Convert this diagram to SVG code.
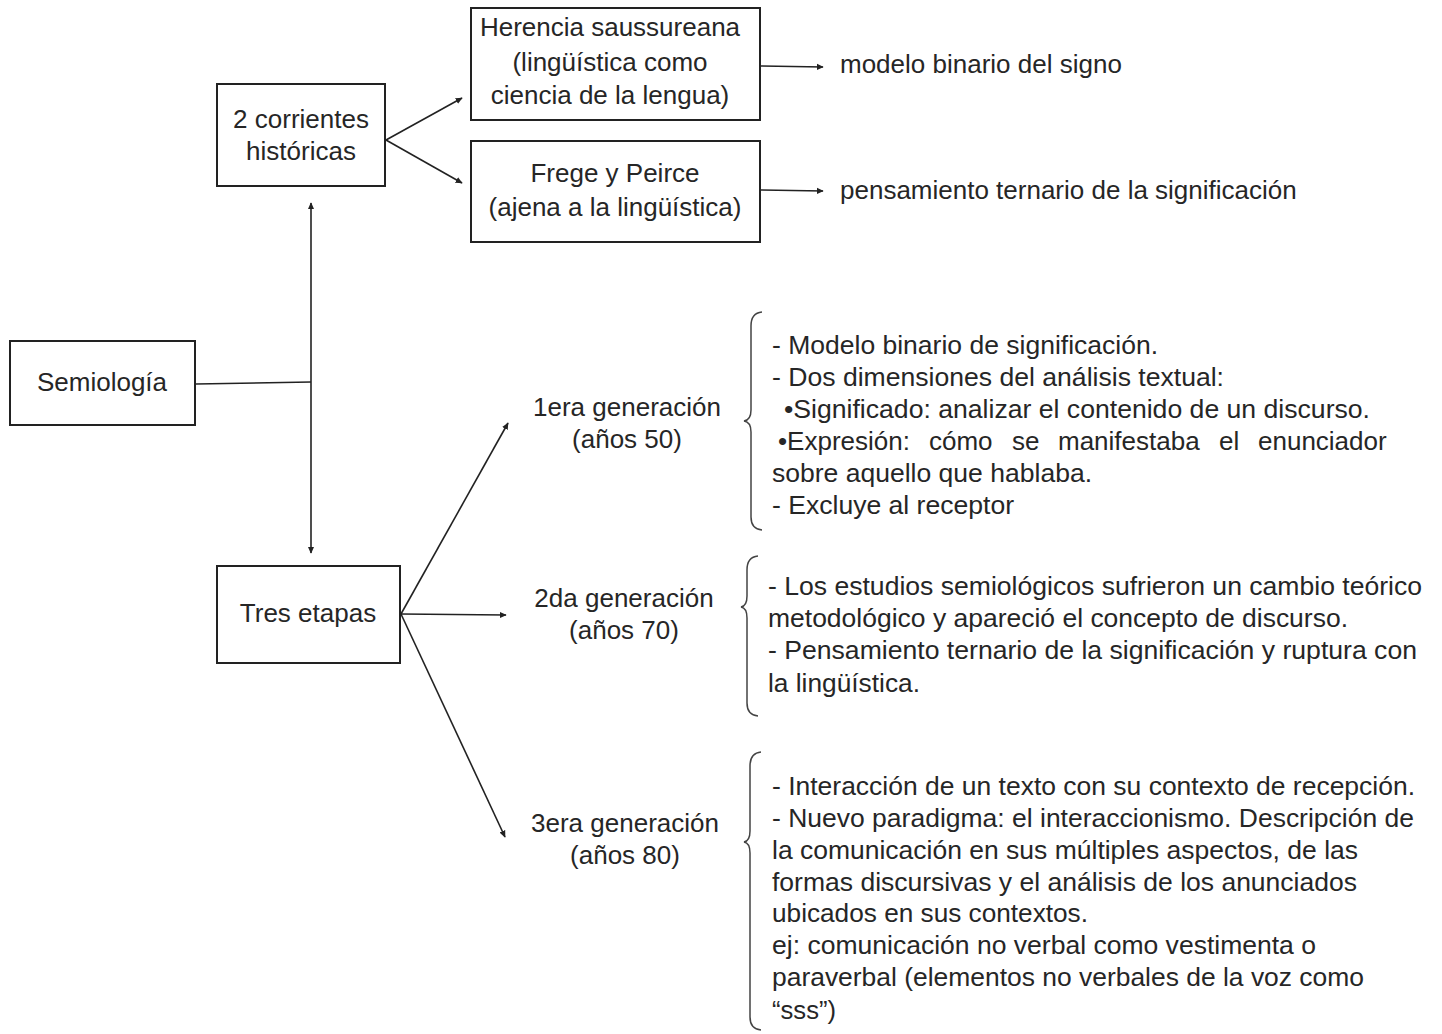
<svg xmlns="http://www.w3.org/2000/svg" width="1442" height="1034" viewBox="0 0 1442 1034">
<style>
  .box { fill: #fff; stroke: #222; stroke-width: 2; }
  .lbl { font-family: "Liberation Sans", Arial, sans-serif; font-size: 26px; fill: #262626; text-anchor: middle; }
  .txt { font-family: "Liberation Sans", Arial, sans-serif; font-size: 26px; fill: #262626; }
  .edge { stroke: #222; stroke-width: 1.6; fill: none; }
  .brace { stroke: #444; stroke-width: 1.5; fill: none; }
</style>
<defs>
  <marker id="ah" viewBox="0 0 10 10" refX="9" refY="5" markerWidth="7" markerHeight="7" markerUnits="userSpaceOnUse" orient="auto-start-reverse">
    <path d="M0,0.5 L10,5 L0,9.5 Z" fill="#222"/>
  </marker>
</defs>
<rect width="1442" height="1034" fill="#fff"/>

<g id="connectors">
  <line class="edge" x1="386" y1="140" x2="462" y2="98" marker-end="url(#ah)"/>
  <line class="edge" x1="386" y1="140" x2="462" y2="183" marker-end="url(#ah)"/>
  <line class="edge" x1="760" y1="66" x2="823" y2="67" marker-end="url(#ah)"/>
  <line class="edge" x1="760" y1="190" x2="823" y2="191" marker-end="url(#ah)"/>
  <line class="edge" x1="311" y1="203" x2="311" y2="553" marker-start="url(#ah)" marker-end="url(#ah)"/>
  <line class="edge" x1="196" y1="384" x2="311" y2="382"/>
  <line class="edge" x1="401" y1="614" x2="508" y2="423" marker-end="url(#ah)"/>
  <line class="edge" x1="401" y1="614" x2="506" y2="615" marker-end="url(#ah)"/>
  <line class="edge" x1="401" y1="614" x2="505" y2="837" marker-end="url(#ah)"/>
</g>

<g id="n-corrientes">
  <rect class="box" x="217" y="84" width="168" height="102"/>
  <text class="lbl" x="301" y="128">2 corrientes</text>
  <text class="lbl" x="301" y="160">históricas</text>
</g>
<g id="n-herencia">
  <rect class="box" x="471" y="8" width="289" height="112"/>
  <text class="lbl" x="610" y="36">Herencia saussureana</text>
  <text class="lbl" x="610" y="71">(lingüística como</text>
  <text class="lbl" x="610" y="104">ciencia de la lengua)</text>
</g>
<g id="n-frege">
  <rect class="box" x="471" y="141" width="289" height="101"/>
  <text class="lbl" x="615" y="182">Frege y Peirce</text>
  <text class="lbl" x="615" y="216">(ajena a la lingüística)</text>
</g>
<g id="n-modelo">
  <text class="txt" x="840" y="73">modelo binario del signo</text>
</g>
<g id="n-pensamiento">
  <text class="txt" x="840" y="199">pensamiento ternario de la significación</text>
</g>
<g id="n-semiologia">
  <rect class="box" x="10" y="341" width="185" height="84"/>
  <text class="lbl" x="102" y="391">Semiología</text>
</g>
<g id="n-tres">
  <rect class="box" x="217" y="566" width="183" height="97"/>
  <text class="lbl" x="308" y="622">Tres etapas</text>
</g>
<g id="n-gen1">
  <text class="lbl" x="627" y="416">1era generación</text>
  <text class="lbl" x="627" y="448">(años 50)</text>
</g>
<g id="n-gen2">
  <text class="lbl" x="624" y="607">2da generación</text>
  <text class="lbl" x="624" y="639">(años 70)</text>
</g>
<g id="n-gen3">
  <text class="lbl" x="625" y="832">3era generación</text>
  <text class="lbl" x="625" y="864">(años 80)</text>
</g>

<g id="n-desc1">
  <path class="brace" d="M762,312 Q751,313 751,326 L751,410 Q751,420 744,421 Q751,422 751,432 L751,517 Q751,529 762,530"/>
  <text class="txt" x="772" y="354" textLength="386" lengthAdjust="spacingAndGlyphs">- Modelo binario de significación.</text>
  <text class="txt" x="772" y="386" textLength="452" lengthAdjust="spacingAndGlyphs">- Dos dimensiones del análisis textual:</text>
  <text class="txt" x="784" y="418" textLength="586" lengthAdjust="spacingAndGlyphs">•Significado: analizar el contenido de un discurso.</text>
  <text class="txt" y="450"><tspan x="778">•Expresión:</tspan><tspan x="929">cómo</tspan><tspan x="1012">se</tspan><tspan x="1058">manifestaba</tspan><tspan x="1219">el</tspan><tspan x="1258">enunciador</tspan></text>
  <text class="txt" x="772" y="482" textLength="320" lengthAdjust="spacingAndGlyphs">sobre aquello que hablaba.</text>
  <text class="txt" x="772" y="514" textLength="242" lengthAdjust="spacingAndGlyphs">- Excluye al receptor</text>
</g>
<g id="n-desc2">
  <path class="brace" d="M758,556 Q747,557 747,570 L747,596 Q747,606 741,607 Q747,608 747,618 L747,703 Q747,715 758,716"/>
  <text class="txt" x="768" y="595" textLength="654" lengthAdjust="spacingAndGlyphs">- Los estudios semiológicos sufrieron un cambio teórico</text>
  <text class="txt" x="768" y="627" textLength="580" lengthAdjust="spacingAndGlyphs">metodológico y apareció el concepto de discurso.</text>
  <text class="txt" x="768" y="659" textLength="649" lengthAdjust="spacingAndGlyphs">- Pensamiento ternario de la significación y ruptura con</text>
  <text class="txt" x="768" y="692" textLength="152" lengthAdjust="spacingAndGlyphs">la lingüística.</text>
</g>
<g id="n-desc3">
  <path class="brace" d="M761,752 Q750,753 750,766 L750,831 Q750,841 744,842 Q750,843 750,853 L750,1017 Q750,1029 761,1030"/>
  <text class="txt" x="772" y="795" textLength="643" lengthAdjust="spacingAndGlyphs">- Interacción de un texto con su contexto de recepción.</text>
  <text class="txt" x="772" y="827" textLength="642" lengthAdjust="spacingAndGlyphs">- Nuevo paradigma: el interaccionismo. Descripción de</text>
  <text class="txt" x="772" y="859" textLength="586" lengthAdjust="spacingAndGlyphs">la comunicación en sus múltiples aspectos, de las</text>
  <text class="txt" x="772" y="891" textLength="585" lengthAdjust="spacingAndGlyphs">formas discursivas y el análisis de los anunciados</text>
  <text class="txt" x="772" y="922" textLength="316" lengthAdjust="spacingAndGlyphs">ubicados en sus contextos.</text>
  <text class="txt" x="772" y="954" textLength="544" lengthAdjust="spacingAndGlyphs">ej: comunicación no verbal como vestimenta o</text>
  <text class="txt" x="772" y="986" textLength="592" lengthAdjust="spacingAndGlyphs">paraverbal (elementos no verbales de la voz como</text>
  <text class="txt" x="772" y="1019" textLength="64" lengthAdjust="spacingAndGlyphs">“sss”)</text>
</g>
</svg>
